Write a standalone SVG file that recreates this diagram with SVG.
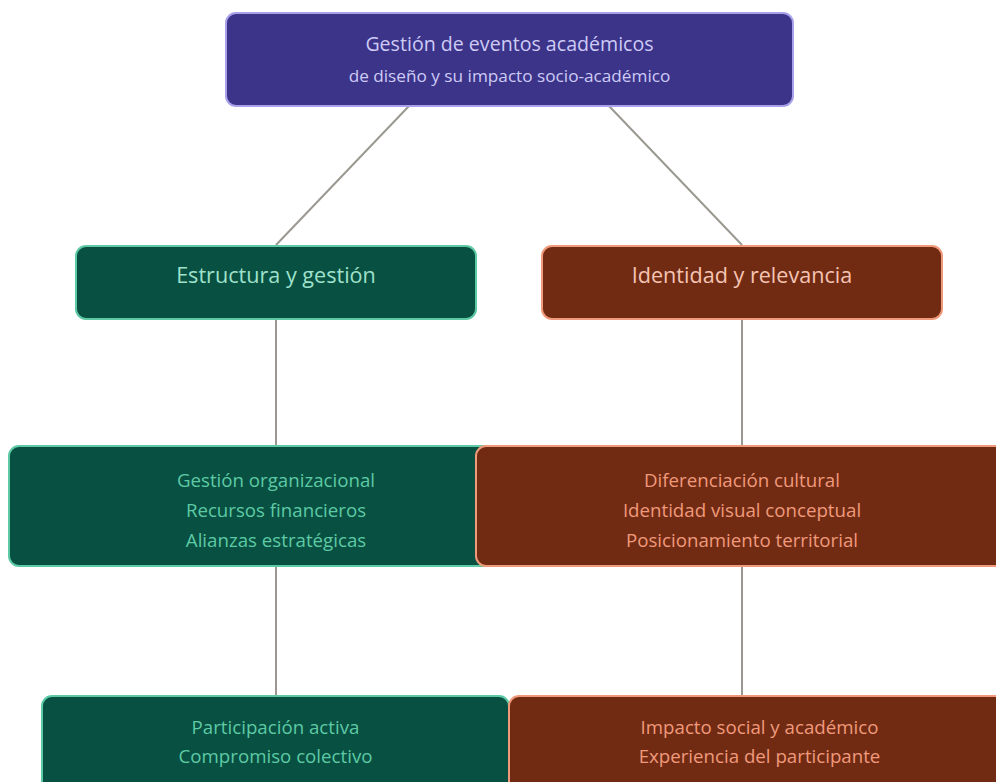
<svg xmlns="http://www.w3.org/2000/svg" width="996" height="782" viewBox="0 0 996 782">
<style>
text{font-family:"Open Sans","Noto Sans","DejaVu Sans",sans-serif;text-anchor:middle}
.edge{stroke:#9a9891;stroke-width:2;fill:none}
.pu{fill:#3c3489;stroke:#a9a2ea;stroke-width:2}
.gr{fill:#085041;stroke:#5dcaa5;stroke-width:2}
.br{fill:#712b13;stroke:#f0997b;stroke-width:2}
.tpu{fill:#cecbf6}
.tgr{fill:#9fe1cb}
.tgr2{fill:#5dcaa5}
.tbr{fill:#f5c4b3}
.tbr2{fill:#f0997b}
.t{font-size:19.6px}
.st{font-size:17.2px}
.h{font-size:21.6px}
.s{font-size:18.7px}
</style>
<rect width="996" height="782" fill="#ffffff"/>
<g id="connectors">
<line class="edge" x1="409" y1="106" x2="276" y2="245"/>
<line class="edge" x1="609" y1="106" x2="742" y2="245"/>
<line class="edge" x1="276" y1="320" x2="276" y2="446"/>
<line class="edge" x1="742" y1="320" x2="742" y2="446"/>
<line class="edge" x1="276" y1="566" x2="276" y2="696"/>
<line class="edge" x1="742" y1="566" x2="742" y2="696"/>
</g>
<g id="root">
<rect class="pu" x="226" y="13" width="567" height="93" rx="10"/>
<text class="tpu t" x="509.5" y="51">Gestión de eventos académicos</text>
<text class="tpu st" x="509.5" y="82">de diseño y su impacto socio-académico</text>
</g>
<g id="estructura">
<rect class="gr" x="76" y="246" width="400" height="73" rx="10"/>
<text class="tgr h" x="276" y="283">Estructura y gestión</text>
</g>
<g id="identidad">
<rect class="br" x="542" y="246" width="400" height="73" rx="10"/>
<text class="tbr h" x="742" y="283">Identidad y relevancia</text>
</g>
<g id="gestion">
<rect class="gr" x="9" y="446" width="534" height="120" rx="10"/>
<text class="tgr2 s" x="276" y="486.5">Gestión organizacional</text>
<text class="tgr2 s" x="276" y="516.5">Recursos financieros</text>
<text class="tgr2 s" x="276" y="546.5">Alianzas estratégicas</text>
</g>
<g id="diferenciacion">
<rect class="br" x="476" y="446" width="533" height="120" rx="10"/>
<text class="tbr2 s" x="742" y="486.5">Diferenciación cultural</text>
<text class="tbr2 s" x="742" y="516.5">Identidad visual conceptual</text>
<text class="tbr2 s" x="742" y="546.5">Posicionamiento territorial</text>
</g>
<g id="participacion">
<rect class="gr" x="42" y="696" width="467" height="100" rx="10"/>
<text class="tgr2 s" x="275.5" y="734">Participación activa</text>
<text class="tgr2 s" x="275.5" y="763">Compromiso colectivo</text>
</g>
<g id="impacto">
<rect class="br" x="509" y="696" width="501" height="100" rx="10"/>
<text class="tbr2 s" x="759.5" y="734">Impacto social y académico</text>
<text class="tbr2 s" x="759.5" y="763">Experiencia del participante</text>
</g>
</svg>
